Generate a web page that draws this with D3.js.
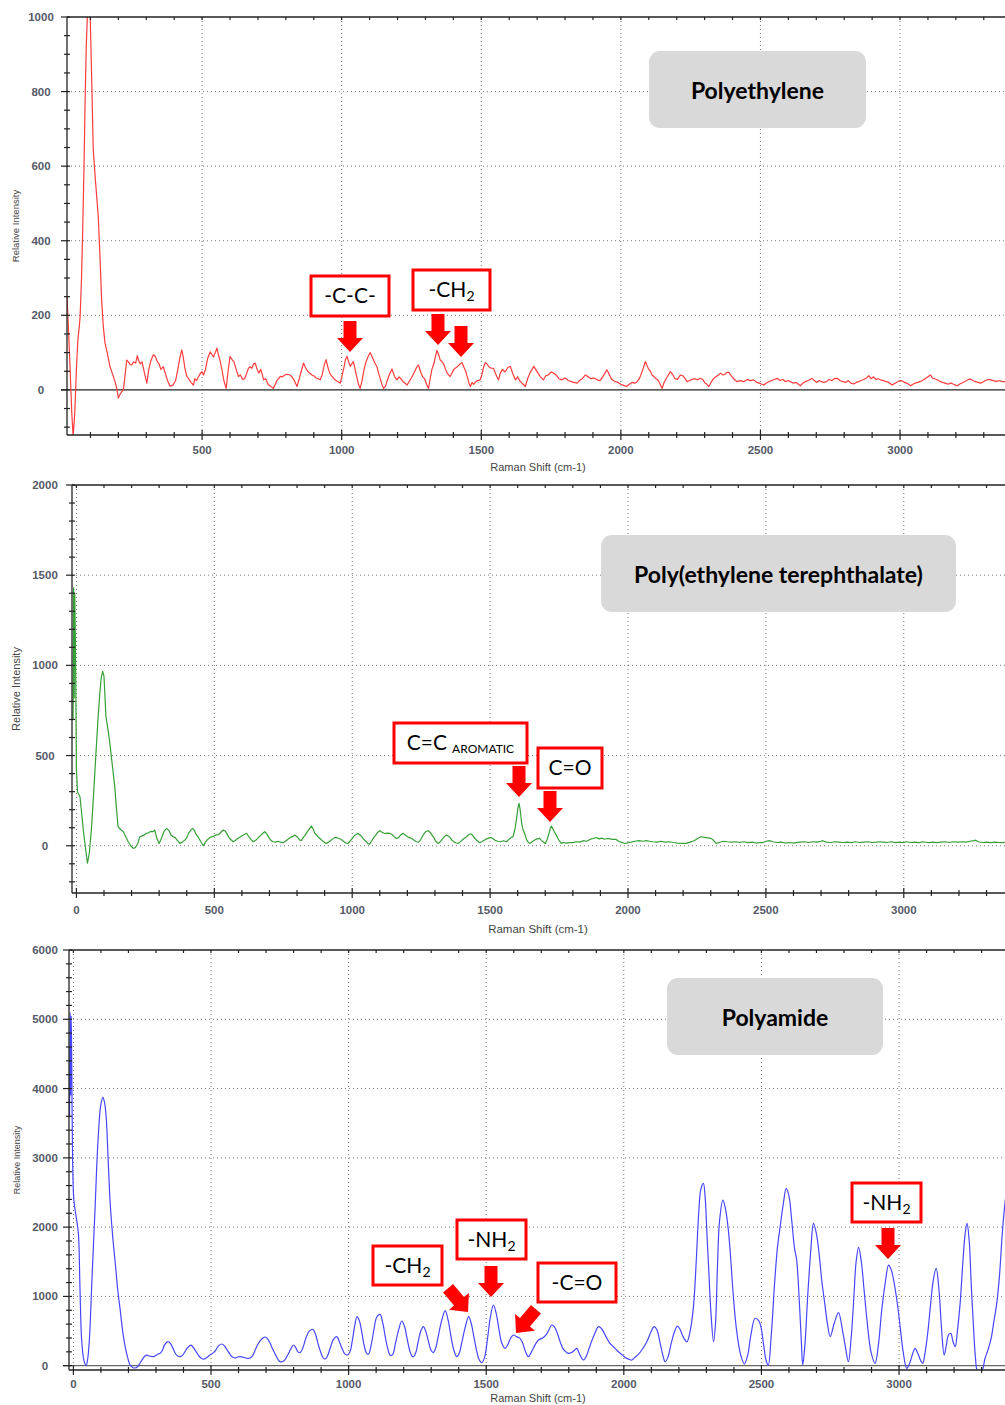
<!DOCTYPE html>
<html>
<head>
<meta charset="utf-8">
<script src="https://cdn.jsdelivr.net/npm/d3@7"></script>
<style>
  body { margin: 0; background: #fff; }
  svg { display: block; }
</style>
</head>
<body>
<div id="chart"></div>
<script>
// ---- data: [Raman shift (cm-1), relative intensity] ----
const peSpectrum = [
  [16,250],[22,150],[28,40],[33,-60],[38,-125],[44,-60],[50,60],[55,134],[60,170],[63,196],[68,300],[72,421],[77,600],[81,780],[85,920],[89,1005],[99,1005],[104,850],[110,645],[118,560],[128,465],[134,360],[140,242],[146,170],[152,126],[160,100],[170,62],[178,45],[188,22],[194,5],[200,-22],[206,-12],[212,-5],[218,0],[224,40],[230,80],[236,75],[242,68],[248,67],[255,75],[262,72],[268,92],[272,80],[278,70],[285,75],[292,50],[302,18],[308,50],[315,75],[325,94],[332,90],[340,75],[346,70],[352,55],[361,62],[368,45],[376,25],[385,10],[395,12],[405,25],[413,55],[420,85],[427,107],[432,90],[438,60],[445,36],[452,30],[460,20],[469,13],[474,30],[480,25],[487,35],[494,45],[499,49],[505,40],[512,55],[520,85],[529,102],[535,95],[541,88],[547,100],[553,112],[558,95],[564,80],[571,54],[578,25],[586,4],[593,50],[600,90],[607,82],[614,75],[622,55],[630,36],[637,40],[645,28],[652,30],[660,45],[666,58],[672,62],[678,58],[685,70],[690,72],[697,55],[703,45],[710,55],[716,40],[720,27],[728,30],[736,15],[745,10],[755,4],[762,15],[768,25],[774,30],[780,36],[788,35],[796,40],[804,42],[815,40],[822,35],[830,25],[840,9],[848,30],[855,50],[863,72],[870,60],[878,50],[886,45],[893,40],[900,38],[908,32],[915,30],[923,27],[930,40],[937,65],[944,81],[950,62],[957,45],[965,36],[972,30],[980,25],[987,22],[995,18],[1002,40],[1008,60],[1013,80],[1019,90],[1025,75],[1031,63],[1036,70],[1042,76],[1048,55],[1054,35],[1060,15],[1066,4],[1073,25],[1080,55],[1087,75],[1095,90],[1102,100],[1108,90],[1114,80],[1120,70],[1126,63],[1132,45],[1138,30],[1144,15],[1150,4],[1157,10],[1163,25],[1170,40],[1176,50],[1180,56],[1185,45],[1190,35],[1198,27],[1205,35],[1212,30],[1220,22],[1227,18],[1234,13],[1240,20],[1248,30],[1255,40],[1262,50],[1268,60],[1275,67],[1282,50],[1290,35],[1297,30],[1304,15],[1311,4],[1317,30],[1323,55],[1330,70],[1336,90],[1341,106],[1347,95],[1353,80],[1359,76],[1365,70],[1372,55],[1378,45],[1383,40],[1389,36],[1395,45],[1402,55],[1410,60],[1418,65],[1425,70],[1431,73],[1437,62],[1444,50],[1450,35],[1456,18],[1461,9],[1467,20],[1473,15],[1480,22],[1487,25],[1496,27],[1502,40],[1508,60],[1514,73],[1520,70],[1527,62],[1535,58],[1544,58],[1550,45],[1556,35],[1562,27],[1568,45],[1576,55],[1585,48],[1595,60],[1604,63],[1612,45],[1622,27],[1630,35],[1640,22],[1650,15],[1658,9],[1666,30],[1674,45],[1682,55],[1688,63],[1695,55],[1703,45],[1712,35],[1723,27],[1731,38],[1740,40],[1750,48],[1759,45],[1768,40],[1778,30],[1789,27],[1800,32],[1812,25],[1822,22],[1832,20],[1843,18],[1852,25],[1862,30],[1873,40],[1883,35],[1893,30],[1903,32],[1915,27],[1925,25],[1935,35],[1943,45],[1950,54],[1958,42],[1966,30],[1973,25],[1980,22],[1990,20],[2000,15],[2010,12],[2020,9],[2030,15],[2040,20],[2050,18],[2058,22],[2066,30],[2074,45],[2081,60],[2088,76],[2094,65],[2100,55],[2106,50],[2112,40],[2118,36],[2126,30],[2134,25],[2141,15],[2148,4],[2155,20],[2162,30],[2170,40],[2177,49],[2185,42],[2194,30],[2203,28],[2213,40],[2222,38],[2230,30],[2237,22],[2245,25],[2255,28],[2265,30],[2275,27],[2285,31],[2293,28],[2300,20],[2308,15],[2315,9],[2323,20],[2332,30],[2340,35],[2350,40],[2357,45],[2365,40],[2373,42],[2380,47],[2387,47],[2395,38],[2404,30],[2416,22],[2428,25],[2440,22],[2452,28],[2464,25],[2476,27],[2486,20],[2496,18],[2505,15],[2512,13],[2520,18],[2530,22],[2540,25],[2550,28],[2560,31],[2570,25],[2580,28],[2590,22],[2600,25],[2608,22],[2618,18],[2628,20],[2636,15],[2643,11],[2652,18],[2660,22],[2670,25],[2678,28],[2685,31],[2693,25],[2702,20],[2710,25],[2718,22],[2727,20],[2737,22],[2745,28],[2755,25],[2765,30],[2775,31],[2785,25],[2795,22],[2805,20],[2815,25],[2824,18],[2834,16],[2843,20],[2852,22],[2860,25],[2870,28],[2880,32],[2888,38],[2896,30],[2905,35],[2914,28],[2922,30],[2930,27],[2940,25],[2950,22],[2960,20],[2972,13],[2982,18],[2992,22],[3000,25],[3008,24],[3016,20],[3024,18],[3031,15],[3038,11],[3046,15],[3055,18],[3064,20],[3072,22],[3080,25],[3090,30],[3100,35],[3109,40],[3116,32],[3124,30],[3131,28],[3138,25],[3145,22],[3153,20],[3162,18],[3172,15],[3182,18],[3192,15],[3200,12],[3205,11],[3212,15],[3220,18],[3230,22],[3238,25],[3245,28],[3253,29],[3262,25],[3270,22],[3280,20],[3289,18],[3298,22],[3306,25],[3315,28],[3324,27],[3335,25],[3345,22],[3355,25],[3366,22],[3378,22],[3392,20]
];

const petSpectrum = [
  [-12,700],[-10,1430],[-8,820],[-6,1400],[-3,1050],[0,420],[4,300],[13,270],[19,180],[25,87],[32,0],[40,-97],[47,-40],[55,104],[64,330],[73,570],[79,720],[85,848],[90,930],[95,967],[100,940],[107,717],[114,650],[121,570],[130,450],[139,328],[145,210],[151,106],[160,90],[170,78],[179,50],[188,22],[197,0],[206,-15],[214,-10],[222,10],[230,50],[238,55],[246,60],[254,69],[262,72],[270,80],[278,78],[284,87],[292,40],[300,13],[308,40],[318,80],[327,96],[335,85],[343,60],[351,50],[358,45],[366,30],[375,13],[384,20],[393,31],[400,45],[407,70],[414,85],[421,96],[428,85],[435,60],[441,50],[450,25],[460,0],[468,20],[476,35],[484,45],[490,50],[500,55],[508,60],[516,62],[524,75],[532,87],[540,80],[548,60],[556,40],[568,22],[577,30],[585,40],[595,50],[605,60],[617,69],[625,50],[633,35],[641,22],[650,30],[660,45],[670,60],[678,72],[683,78],[690,65],[698,45],[705,30],[713,22],[722,20],[730,25],[740,20],[749,17],[758,25],[766,35],[775,45],[784,52],[792,59],[800,50],[810,31],[816,30],[822,45],[830,60],[838,80],[845,95],[852,109],[858,95],[864,70],[870,60],[876,50],[883,40],[890,30],[898,20],[906,13],[915,20],[923,30],[930,38],[936,45],[943,46],[950,40],[957,38],[964,30],[972,20],[978,15],[985,13],[992,25],[1000,40],[1007,55],[1014,62],[1021,69],[1028,60],[1035,50],[1042,35],[1050,25],[1057,12],[1063,9],[1070,25],[1078,45],[1086,60],[1093,75],[1100,83],[1108,75],[1118,68],[1127,70],[1136,69],[1145,62],[1152,50],[1160,40],[1168,45],[1176,60],[1184,69],[1192,60],[1200,50],[1208,45],[1216,40],[1225,30],[1233,22],[1240,20],[1247,30],[1254,50],[1262,70],[1268,80],[1275,83],[1282,75],[1289,60],[1296,45],[1303,25],[1311,13],[1318,20],[1326,35],[1334,50],[1341,59],[1348,55],[1355,45],[1362,30],[1370,20],[1377,15],[1383,13],[1390,20],[1398,30],[1406,40],[1414,50],[1420,58],[1426,65],[1432,65],[1438,55],[1445,40],[1452,30],[1462,17],[1470,22],[1478,30],[1486,38],[1494,42],[1503,46],[1510,40],[1518,30],[1528,25],[1538,22],[1548,28],[1559,22],[1568,35],[1576,45],[1583,50],[1590,90],[1596,150],[1601,210],[1605,235],[1609,200],[1614,130],[1619,90],[1625,69],[1632,35],[1638,20],[1643,13],[1650,20],[1660,30],[1670,38],[1679,41],[1686,30],[1693,20],[1701,13],[1708,40],[1714,70],[1718,95],[1722,109],[1727,95],[1732,80],[1740,59],[1746,40],[1752,25],[1758,13],[1766,18],[1776,15],[1788,17],[1800,17],[1812,22],[1825,20],[1838,28],[1850,25],[1862,35],[1874,40],[1885,46],[1895,38],[1905,42],[1915,36],[1925,40],[1935,38],[1945,35],[1957,35],[1966,25],[1975,20],[1984,15],[1993,13],[2002,18],[2012,20],[2025,25],[2040,28],[2055,25],[2066,28],[2078,25],[2090,22],[2105,20],[2120,25],[2135,20],[2150,22],[2165,18],[2180,15],[2195,13],[2211,13],[2225,20],[2240,28],[2252,40],[2265,50],[2278,46],[2290,44],[2301,41],[2310,30],[2320,13],[2330,18],[2345,25],[2360,22],[2375,20],[2392,22],[2405,18],[2420,22],[2435,17],[2450,20],[2465,15],[2478,18],[2488,17],[2500,25],[2513,28],[2525,22],[2540,18],[2555,20],[2570,15],[2585,18],[2600,15],[2610,17],[2625,20],[2640,22],[2655,18],[2670,22],[2685,20],[2700,25],[2706,28],[2720,20],[2735,18],[2750,22],[2765,20],[2780,18],[2795,20],[2810,17],[2825,22],[2840,18],[2855,20],[2870,22],[2885,18],[2900,20],[2911,22],[2925,20],[2940,18],[2955,22],[2970,17],[2985,20],[2996,17],[3010,22],[3025,18],[3040,20],[3055,17],[3070,22],[3085,18],[3092,17],[3105,20],[3120,17],[3135,20],[3150,22],[3165,18],[3180,22],[3195,20],[3213,22],[3225,20],[3240,25],[3255,28],[3261,31],[3270,22],[3285,18],[3300,20],[3315,17],[3330,20],[3345,18],[3358,17],[3375,20],[3392,18]
];

const paSpectrum = [
  [-14,3600],[-12,5100],[-10,3900],[-8,5050],[-6,4300],[-3,3000],[0,2500],[3,2345],[10,2150],[18,1915],[24,1100],[30,371],[38,80],[46,0],[52,100],[58,371],[68,1300],[79,2294],[85,2900],[91,3355],[99,3750],[107,3874],[113,3800],[119,3593],[126,3000],[133,2391],[142,1900],[152,1482],[161,1100],[170,804],[179,500],[188,274],[197,120],[206,10],[215,-25],[224,-33],[233,-15],[242,39],[252,100],[260,140],[267,154],[275,140],[283,135],[291,130],[300,150],[308,170],[315,178],[323,220],[330,290],[338,335],[345,346],[353,320],[362,250],[370,180],[379,140],[388,130],[396,150],[405,200],[415,260],[427,298],[436,260],[446,200],[456,140],[466,105],[475,96],[485,120],[495,150],[509,188],[518,230],[528,290],[539,313],[548,290],[558,230],[568,170],[578,125],[588,111],[597,125],[606,130],[615,125],[624,113],[633,105],[642,111],[652,150],[662,240],[672,320],[682,375],[690,405],[697,414],[705,390],[714,330],[723,250],[733,170],[742,100],[751,58],[761,60],[771,100],[782,180],[791,250],[800,299],[808,260],[816,200],[824,188],[833,250],[845,400],[857,500],[870,525],[880,450],[890,300],[900,180],[908,110],[915,97],[922,130],[932,240],[945,380],[957,419],[966,350],[976,250],[986,170],[996,154],[1005,200],[1013,350],[1022,570],[1030,707],[1039,650],[1048,480],[1056,300],[1064,190],[1072,165],[1082,300],[1092,520],[1102,700],[1114,740],[1124,620],[1133,420],[1142,250],[1151,150],[1160,160],[1170,320],[1182,520],[1193,645],[1203,570],[1213,380],[1222,220],[1230,140],[1236,130],[1245,200],[1254,370],[1264,520],[1272,563],[1280,500],[1290,350],[1300,220],[1308,190],[1316,250],[1326,430],[1338,650],[1351,794],[1362,650],[1372,420],[1382,230],[1393,130],[1402,180],[1412,350],[1424,560],[1436,707],[1445,620],[1455,420],[1465,220],[1474,90],[1484,43],[1494,120],[1505,400],[1515,700],[1526,876],[1536,760],[1546,530],[1556,330],[1568,251],[1578,300],[1589,400],[1599,443],[1610,420],[1623,395],[1633,320],[1643,200],[1653,130],[1662,180],[1672,260],[1690,371],[1705,400],[1718,450],[1728,520],[1738,587],[1748,560],[1760,450],[1770,330],[1780,240],[1790,200],[1799,178],[1810,190],[1820,220],[1829,251],[1840,160],[1853,82],[1865,150],[1878,300],[1893,450],[1908,563],[1920,530],[1935,420],[1948,330],[1962,274],[1975,220],[1990,170],[2005,120],[2018,95],[2029,82],[2040,120],[2052,160],[2066,230],[2084,350],[2100,500],[2110,563],[2120,520],[2132,323],[2142,150],[2150,58],[2160,120],[2172,320],[2185,500],[2195,573],[2205,520],[2215,420],[2229,346],[2240,480],[2253,852],[2263,1500],[2272,2200],[2280,2550],[2289,2632],[2296,2400],[2302,1900],[2308,1429],[2316,800],[2326,346],[2333,600],[2340,1400],[2348,2100],[2360,2391],[2370,2250],[2380,1950],[2387,1622],[2398,1000],[2410,500],[2425,150],[2438,25],[2450,150],[2462,450],[2477,684],[2490,650],[2498,563],[2508,300],[2518,60],[2525,10],[2535,400],[2548,1200],[2558,1700],[2568,2006],[2580,2350],[2590,2560],[2600,2450],[2610,2100],[2620,1700],[2628,1525],[2638,900],[2645,350],[2650,10],[2658,300],[2668,1000],[2680,1700],[2689,2055],[2700,1900],[2710,1600],[2719,1237],[2730,900],[2740,600],[2750,419],[2765,620],[2780,765],[2795,500],[2806,250],[2816,58],[2826,400],[2836,1000],[2844,1500],[2853,1709],[2863,1500],[2873,1092],[2885,600],[2898,200],[2913,34],[2925,300],[2937,800],[2950,1200],[2962,1453],[2972,1380],[2982,1200],[2992,948],[3003,600],[3015,200],[3028,-38],[3040,50],[3050,180],[3058,251],[3068,180],[3078,80],[3086,34],[3095,200],[3105,500],[3115,900],[3125,1250],[3135,1405],[3145,1100],[3155,500],[3164,154],[3172,300],[3180,450],[3188,467],[3196,350],[3204,274],[3212,500],[3222,900],[3232,1500],[3240,1900],[3247,2055],[3255,1800],[3262,1200],[3270,600],[3278,100],[3285,-70],[3301,-70],[3312,100],[3325,251],[3335,400],[3345,650],[3355,900],[3365,1300],[3375,1900],[3385,2350],[3395,2650]
];

// axis ticks
const shiftTicks = [0, 500, 1000, 1500, 2000, 2500, 3000];
const peIntensityTicks = [0, 200, 400, 600, 800, 1000];
const petIntensityTicks = [0, 500, 1000, 1500, 2000];
const paIntensityTicks = [0, 1000, 2000, 3000, 4000, 5000, 6000];

const W = 1005, H = 1405;
const axisFont = "'Liberation Sans', Arial, sans-serif";
const noteFont = "Lato, 'Noto Sans', sans-serif";

const svg = d3.select("#chart").append("svg")
  .attr("width", W).attr("height", H)
  .style("font-family", axisFont);
svg.append("rect").attr("width", W).attr("height", H).attr("fill", "#fff");

// 每个面板的布局
const panels = [
  {
    id: "pe", data: peSpectrum, color: "#ff3c3c", curve: d3.curveLinear,
    left: 67, right: 1005, top: 17, bottom: 435,
    xDomain: [16, 3376], yDomain: [-121, 1000],
    yTicks: peIntensityTicks, yMinor: 50, yGrid: [200, 400, 600, 800], zero: "#222",
    yLabelX: 41, xLabelDy: 15, xTitleY: 467, yTitleX: 15, xTitleSize: 11, yTitleSize: 9.5,
    title: { text: "Polyethylene", x: 649, y: 51, w: 217, h: 77 },
    notes: [
      { box: [311, 276, 78, 40], text: "-C-C-" },
      { box: [413, 270, 77, 40], text: "-CH", sub: "2" }
    ],
    arrows: [[350, 352, 0], [438, 345, 0], [461, 357, 0]]
  },
  {
    id: "pet", data: petSpectrum, color: "#35a035", curve: d3.curveLinear,
    left: 72, right: 1005, top: 485, bottom: 893,
    xDomain: [-16, 3367], yDomain: [-262, 2000],
    yTicks: petIntensityTicks, yMinor: 100, yGrid: [0, 500, 1000, 1500], zero: null,
    yLabelX: 45, xLabelDy: 17, xTitleY: 929, yTitleX: 16, xTitleSize: 11.5, yTitleSize: 11,
    title: { text: "Poly(ethylene terephthalate)", x: 601, y: 535, w: 355, h: 77 },
    notes: [
      { box: [394, 723, 133, 40], text: "C=C", small: "AROMATIC" },
      { box: [538, 748, 64, 40], text: "C=O" }
    ],
    arrows: [[519, 797, 0], [550, 822, 0]]
  },
  {
    id: "pa", data: paSpectrum, color: "#4646ff", curve: d3.curveCatmullRom.alpha(0.5),
    left: 69, right: 1005, top: 950, bottom: 1370,
    xDomain: [-16, 3385], yDomain: [-62, 6000],
    yTicks: paIntensityTicks, yMinor: 200, yGrid: [1000, 2000, 3000, 4000, 5000], zero: "#666",
    yLabelX: 45, xLabelDy: 14, xTitleY: 1398, yTitleX: 17, xTitleSize: 11, yTitleSize: 9,
    title: { text: "Polyamide", x: 667, y: 978, w: 216, h: 77 },
    notes: [
      { box: [373, 1246, 69, 39], text: "-CH", sub: "2" },
      { box: [457, 1220, 69, 39], text: "-NH", sub: "2" },
      { box: [538, 1263, 78, 39], text: "-C=O" },
      { box: [852, 1183, 69, 39], text: "-NH", sub: "2" }
    ],
    arrows: [[468, 1312, -40], [491, 1297, 0], [516, 1333, 40], [888, 1259, 0]]
  }
];

panels.forEach(drawPanel);

function drawPanel(p) {
  const x = d3.scaleLinear().domain(p.xDomain).range([p.left, p.right]);
  const y = d3.scaleLinear().domain(p.yDomain).range([p.bottom, p.top]);
  const g = svg.append("g").attr("class", "panel-" + p.id);

  // 网格
  const xGrid = shiftTicks.filter(v => v >= p.xDomain[0] && v <= p.xDomain[1]);
  g.append("g").selectAll("line").data(xGrid).join("line")
    .attr("x1", d => x(d)).attr("x2", d => x(d))
    .attr("y1", p.top).attr("y2", p.bottom)
    .attr("stroke", "#777").attr("stroke-width", 1).attr("stroke-dasharray", "1,3");
  g.append("g").selectAll("line").data(p.yGrid).join("line")
    .attr("x1", p.left).attr("x2", p.right)
    .attr("y1", d => y(d)).attr("y2", d => y(d))
    .attr("stroke", "#777").attr("stroke-width", 1).attr("stroke-dasharray", "1,3");

  if (p.zero) {
    g.append("line")
      .attr("x1", p.left - 6).attr("x2", p.right)
      .attr("y1", y(0)).attr("y2", y(0))
      .attr("stroke", p.zero).attr("stroke-width", 1.2);
  }

  // title box
  const t = p.title;
  g.append("rect").attr("x", t.x).attr("y", t.y).attr("width", t.w).attr("height", t.h)
    .attr("rx", 11).attr("fill", "#d9d9d9");
  g.append("text").attr("x", t.x + t.w / 2).attr("y", t.y + t.h / 2)
    .attr("text-anchor", "middle").attr("dominant-baseline", "central")
    .attr("font-family", noteFont).attr("font-weight", "bold").attr("font-size", 23)
    .attr("fill", "#000").text(t.text);

  // spectrum
  const clipId = "clip-" + p.id;
  g.append("clipPath").attr("id", clipId).append("rect")
    .attr("x", p.left).attr("y", p.top).attr("width", p.right - p.left).attr("height", p.bottom - p.top);
  const line = d3.line().x(d => x(d[0])).y(d => y(d[1])).curve(p.curve);
  g.append("path").datum(p.data)
    .attr("clip-path", `url(#${clipId})`)
    .attr("d", line).attr("fill", "none")
    .attr("stroke", p.color).attr("stroke-width", 1.2).attr("stroke-linejoin", "round");

  // 坐标轴
  const axisColor = "#222";
  g.append("line").attr("x1", p.left).attr("x2", p.right).attr("y1", p.top).attr("y2", p.top)
    .attr("stroke", axisColor).attr("stroke-width", 1.3);
  g.append("line").attr("x1", p.left).attr("x2", p.right).attr("y1", p.bottom).attr("y2", p.bottom)
    .attr("stroke", axisColor).attr("stroke-width", 1.3);
  g.append("line").attr("x1", p.left).attr("x2", p.left).attr("y1", p.top).attr("y2", p.bottom)
    .attr("stroke", axisColor).attr("stroke-width", 1.3);

  const xMinor = d3.range(Math.ceil(p.xDomain[0] / 100) * 100, p.xDomain[1], 100);
  g.append("g").selectAll("line").data(xMinor).join("line")
    .attr("x1", d => x(d)).attr("x2", d => x(d))
    .attr("y1", d => p.bottom - (d % 500 === 0 ? 5 : 3))
    .attr("y2", d => p.bottom + (d % 500 === 0 ? 5 : 3))
    .attr("stroke", axisColor).attr("stroke-width", 1.2);
  g.append("g").selectAll("line").data(xMinor).join("line")
    .attr("x1", d => x(d)).attr("x2", d => x(d))
    .attr("y1", p.top).attr("y2", p.top + 3)
    .attr("stroke", axisColor).attr("stroke-width", 1.2);

  const yMinor = d3.range(Math.ceil(p.yDomain[0] / p.yMinor) * p.yMinor, p.yDomain[1] + 1, p.yMinor);
  g.append("g").selectAll("line").data(yMinor).join("line")
    .attr("x1", d => p.left - (p.yTicks.includes(d) ? 6 : 3)).attr("x2", p.left + 3)
    .attr("y1", d => y(d)).attr("y2", d => y(d))
    .attr("stroke", axisColor).attr("stroke-width", 1.2);

  // tick labels
  const labelColor = "#555a68";
  g.append("g").selectAll("text").data(xGrid).join("text")
    .attr("x", d => x(d)).attr("y", p.bottom + p.xLabelDy)
    .attr("text-anchor", "middle").attr("dominant-baseline", "central")
    .attr("font-size", 11.5).attr("font-weight", "bold").attr("fill", labelColor)
    .text(d => d);
  g.append("g").selectAll("text").data(p.yTicks).join("text")
    .attr("x", p.yLabelX).attr("y", d => y(d))
    .attr("text-anchor", "middle").attr("dominant-baseline", "central")
    .attr("font-size", 11.5).attr("font-weight", "bold").attr("fill", labelColor)
    .text(d => d);

  // axis titles
  g.append("text").attr("x", 538).attr("y", p.xTitleY)
    .attr("text-anchor", "middle").attr("dominant-baseline", "central")
    .attr("font-size", p.xTitleSize).attr("fill", "#444").text("Raman Shift (cm-1)");
  g.append("text")
    .attr("transform", `translate(${p.yTitleX},${(p.top + p.bottom) / 2}) rotate(-90)`)
    .attr("text-anchor", "middle").attr("dominant-baseline", "central")
    .attr("font-size", p.yTitleSize).attr("fill", "#444").text("Relative Intensity");

  // 标注框
  p.notes.forEach(n => {
    const [bx, by, bw, bh] = n.box;
    g.append("rect").attr("x", bx).attr("y", by).attr("width", bw).attr("height", bh)
      .attr("fill", "#fff").attr("stroke", "#ff0000").attr("stroke-width", 3);
    const txt = g.append("text")
      .attr("x", bx + bw / 2).attr("y", by + bh / 2 + 7)
      .attr("text-anchor", "middle")
      .attr("font-family", noteFont).attr("font-size", 21).attr("fill", "#000");
    txt.append("tspan").text(n.text);
    if (n.sub) txt.append("tspan").attr("font-size", 14).attr("dy", 4).text(n.sub);
    if (n.small) txt.append("tspan").attr("font-size", 12).attr("dy", 3).attr("dx", 5).text(n.small);
  });

  // 红色箭头
  const arrowShape = "M-6.5,-31 L6.5,-31 L6.5,-14 L13,-14 L0,0 L-13,-14 L-6.5,-14 Z";
  g.append("g").selectAll("path").data(p.arrows).join("path")
    .attr("d", arrowShape)
    .attr("transform", d => `translate(${d[0]},${d[1]}) rotate(${d[2]})`)
    .attr("fill", "#ff0000");
}
</script>
</body>
</html>
